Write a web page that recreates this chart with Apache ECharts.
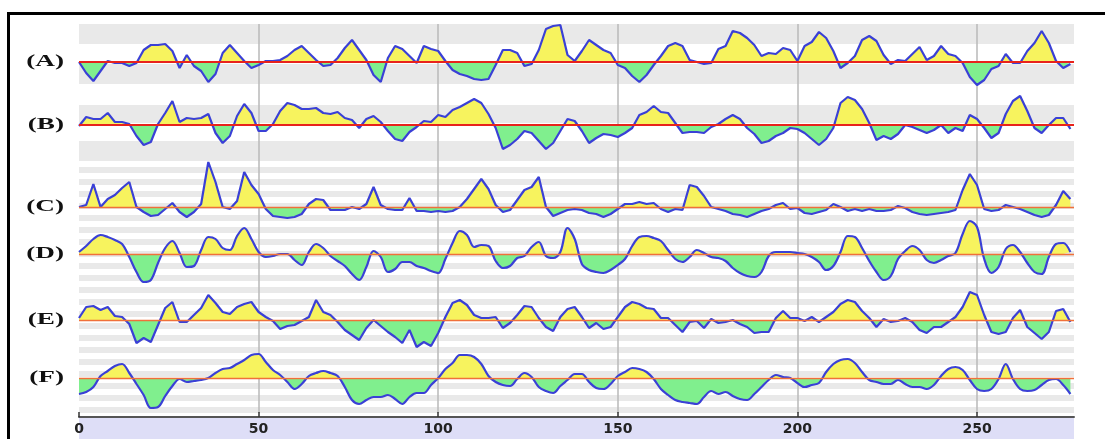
<!DOCTYPE html>
<html><head><meta charset="utf-8">
<script src="https://cdn.jsdelivr.net/npm/echarts@6/dist/echarts.min.js"></script>
<style>
html,body{margin:0;padding:0;background:#fff;width:1105px;height:439px;overflow:hidden;}
#frame{position:absolute;left:7px;top:12px;width:1200px;height:500px;border:3px solid #000;}
#chart{position:absolute;left:0;top:0;width:1105px;height:439px;}
</style></head><body>
<div id="frame"></div><div id="chart"></div>
<script>
const residue = [0,2,4,6,8,10,12,14,16,18,20,22,24,26,28,30,32,34,36,38,40,42,44,46,48,50,52,54,56,58,60,62,64,66,68,70,72,74,76,78,80,82,84,86,88,90,92,94,96,98,100,102,104,106,108,110,112,114,116,118,120,122,124,126,128,130,132,134,136,138,140,142,144,146,148,150,152,154,156,158,160,162,164,166,168,170,172,174,176,178,180,182,184,186,188,190,192,194,196,198,200,202,204,206,208,210,212,214,216,218,220,222,224,226,228,230,232,234,236,238,240,242,244,246,248,250,252,254,256,258,260,262,264,266,268,270,272,274,276];
const tickLabels = [0,50,100,150,200,250];
const panelNames = ['(A)','(B)','(C)','(D)','(E)','(F)'];

const profileA = [0,-11,-19,-9,1,-1,-1,-4,-1,12,
17,17,18,11,-6,7,-4,-9,-20,-12,
9,17,9,1,-6,-3,1,1,2,6,
12,16,9,2,-4,-3,4,14,22,12,
2,-13,-20,4,16,13,6,-1,16,13,
11,1,-8,-12,-14,-17,-18,-17,-3,12,
12,9,-4,-2,12,33,36,37,7,1,
11,22,17,12,9,-3,-6,-14,-20,-13,
-3,6,16,19,16,2,0,-2,-1,13,
16,31,29,24,17,6,9,8,14,12,
1,16,20,30,24,11,-6,-1,6,22,
26,21,7,-2,2,1,8,15,2,6,
16,8,6,-1,-15,-23,-18,-7,-4,8,
-1,-1,11,19,31,19,1,-6,-2];
const profileB = [-1,8,6,6,12,3,3,1,-11,-20,
-17,1,12,24,3,7,6,7,11,-8,
-18,-11,9,21,12,-6,-6,1,14,22,
20,16,16,17,12,11,13,7,5,-3,
6,9,3,-6,-14,-16,-7,-2,4,3,
10,8,15,18,22,26,22,11,-3,-24,
-20,-14,-6,-8,-16,-24,-18,-6,6,4,
-6,-18,-13,-9,-10,-12,-8,-3,10,13,
19,13,12,2,-8,-7,-7,-8,-2,1,
6,10,6,-3,-9,-18,-16,-11,-8,-3,
-4,-8,-14,-20,-14,-3,22,28,25,16,
2,-15,-11,-14,-9,0,-2,-5,-8,-5,
0,-8,-3,-6,10,6,-3,-13,-8,11,
24,29,14,-3,-8,0,7,7,-4];
const profileC = [0,2,23,0,8,12,19,25,0,-5,
-9,-8,-2,4,-5,-10,-5,3,45,25,
0,-2,6,35,22,13,-2,-9,-10,-11,
-10,-7,3,8,7,-3,-3,-3,0,-2,
3,20,2,-2,-3,-3,9,-4,-4,-5,
-4,-5,-4,0,8,18,28,18,2,-5,
-3,7,17,20,30,0,-9,-6,-3,-2,
-3,-6,-7,-10,-7,-2,3,3,5,3,
4,-2,-5,-2,-3,22,20,11,0,-2,
-4,-7,-8,-10,-7,-4,-2,2,4,-2,
-1,-6,-7,-5,-3,3,0,-4,-2,-4,
-2,-4,-4,-3,1,-1,-5,-7,-8,-7,
-6,-5,-3,17,33,22,-2,-4,-3,2,
0,-2,-5,-8,-10,-8,2,16,8];
const profileD = [2,8,15,19,17,14,10,-3,-18,-28,
-26,-9,6,13,1,-13,-12,4,17,15,
6,4,18,26,15,2,-3,-2,0,0,
-6,-11,2,10,6,-2,-7,-12,-20,-26,
-13,3,-3,-18,-15,-8,-8,-12,-14,-17,
-19,-5,11,23,19,7,9,8,-7,-14,
-12,-4,-2,7,12,-2,-4,2,26,15,
-10,-16,-18,-19,-16,-11,-5,8,17,18,
16,13,4,-5,-8,-3,4,1,-3,-4,
-7,-14,-19,-22,-23,-18,-2,2,2,2,
1,0,-3,-8,-16,-12,2,18,17,6,
-7,-18,-26,-22,-5,3,8,4,-6,-9,
-6,-2,1,20,33,27,-5,-19,-13,5,
9,2,-9,-18,-20,-3,10,11,2];
const profileE = [2,13,14,10,13,4,3,-4,-23,-18,
-22,-5,12,18,-2,-2,5,12,25,17,
8,6,13,16,18,8,3,-1,-9,-6,
-5,-1,3,20,8,5,-2,-10,-15,-20,
-8,0,-6,-12,-17,-23,-10,-27,-22,-26,
-13,3,17,20,15,5,2,2,3,-8,
-3,5,14,13,2,-7,-11,3,11,13,
3,-8,-3,-9,-7,3,13,18,16,12,
11,2,2,-5,-12,-2,-1,-8,1,-3,
-2,0,-4,-7,-13,-12,-12,2,9,2,
2,-1,3,-2,3,8,16,20,18,9,
2,-7,1,-2,-1,2,-2,-10,-13,-7,
-7,-2,3,13,28,25,5,-12,-14,-12,
2,10,-7,-13,-19,-12,9,11,-2];
const profileF = [-16,-14,-9,2,7,12,14,5,-6,-17,
-30,-29,-18,-8,-1,-4,-3,-2,0,5,
9,10,14,18,23,24,16,8,3,-4,
-11,-6,2,5,7,5,2,-9,-22,-26,
-22,-19,-19,-17,-21,-26,-19,-15,-15,-7,
0,9,15,23,23,21,14,2,-4,-7,
-8,-1,5,1,-9,-13,-15,-8,-2,4,
4,-4,-10,-11,-6,2,6,10,9,6,
-1,-11,-17,-22,-24,-25,-26,-19,-13,-16,
-14,-18,-21,-22,-16,-9,-2,3,1,0,
-5,-9,-7,-5,6,14,18,19,15,6,
-2,-4,-6,-6,-2,-6,-9,-9,-11,-7,
2,9,11,8,-2,-11,-13,-11,-1,14,
-1,-11,-13,-12,-7,-2,-1,-7,-16];

const profiles = [profileA, profileB, profileC, profileD, profileE, profileF];

// layout
const X_MAX = 277;
const LEFT = 79, RIGHT = 31;
const baselineY = [62, 125, 207, 254, 320, 378];
const HALF = 50;
const smoothing = [false, false, false, 0.35, false, 0.35];
const baseColor = ['#e8231c', '#e8231c', '#f0703a', '#f0703a', '#f0703a', '#f0703a'];
const baseWidth = [2, 2, 1.3, 1.3, 1.3, 1.3];

const grids = [], xAxes = [], yAxes = [], series = [], fillIdx = [];

// striped background bands
const stripeBands = [{top: 24, height: 60, n: 3}, {top: 105, height: 54, n: 3}, {top: 155, height: 258, n: 43}];
stripeBands.forEach(b => {
  const gi = grids.length;
  grids.push({left: LEFT, right: RIGHT, top: b.top, height: b.height});
  xAxes.push({gridIndex: gi, type: 'value', min: 0, max: X_MAX, show: false});
  yAxes.push({gridIndex: gi, type: 'value', min: 0, max: b.n, interval: 1, z: 0,
    axisLine: {show: false}, axisTick: {show: false}, axisLabel: {show: false},
    splitLine: {show: false},
    splitArea: {show: true, areaStyle: {color: ['#e9e9e9', 'rgba(255,255,255,0)']}}});
});

// vertical grid lines
{
  const gi = grids.length;
  grids.push({left: LEFT, right: RIGHT, top: 24, height: 389});
  xAxes.push({gridIndex: gi, type: 'value', min: 0, max: X_MAX, interval: 50, z: 1,
    axisLine: {show: false}, axisTick: {show: false}, axisLabel: {show: false},
    splitLine: {show: true, showMinLine: false, showMaxLine: false, lineStyle: {color: '#b8b8b8', width: 1.5}}});
  yAxes.push({gridIndex: gi, type: 'value', min: 0, max: 1, show: false});
}

// bottom axis band
{
  const gi = grids.length;
  grids.push({left: LEFT, right: RIGHT, top: 417, height: 40, show: true, backgroundColor: '#dedef7', borderWidth: 0});
  xAxes.push({gridIndex: gi, type: 'value', position: 'top', min: 0, max: X_MAX, z: 1,
    axisLine: {show: true, onZero: false, lineStyle: {color: '#555', width: 2}},
    axisTick: {show: true, customValues: tickLabels, length: 5, lineStyle: {color: '#333', width: 1.5}},
    axisLabel: {show: true, customValues: tickLabels, inside: true, margin: 5, color: '#222', fontSize: 14, fontWeight: 'bold', fontFamily: 'DejaVu Sans'},
    splitLine: {show: false}});
  yAxes.push({gridIndex: gi, type: 'value', min: 0, max: 1, show: false});
}

// profile panels
profiles.forEach((vals, p) => {
  const gi = grids.length;
  grids.push({left: LEFT, right: RIGHT, top: baselineY[p] - HALF, height: 2 * HALF});
  xAxes.push({gridIndex: gi, type: 'value', min: 0, max: X_MAX, show: false});
  yAxes.push({gridIndex: gi, type: 'value', min: -HALF, max: HALF, show: false});
  const data = residue.map((r, i) => [r, vals[i]]);
  fillIdx.push(series.length);
  series.push({type: 'line', xAxisIndex: gi, yAxisIndex: gi, data: data, symbol: 'none',
    smooth: smoothing[p], clip: false, z: 2, silent: true,
    lineStyle: {width: 0, opacity: 0},
    areaStyle: {opacity: 1},
    markLine: {silent: true, symbol: ['none', 'none'], label: {show: false},
      lineStyle: {type: 'solid', color: baseColor[p], width: baseWidth[p]},
      data: [{yAxis: 0}]}});
  series.push({type: 'line', xAxisIndex: gi, yAxisIndex: gi, data: data, symbol: 'none',
    smooth: smoothing[p], clip: false, z: 3, silent: true,
    lineStyle: {color: '#3a40d6', width: 2.2}});
});

const chart = echarts.init(document.getElementById('chart'), null, {renderer: 'canvas'});
chart.setOption({
  animation: false,
  grid: grids, xAxis: xAxes, yAxis: yAxes, series: series,
  visualMap: {type: 'piecewise', show: false, dimension: 1, seriesIndex: fillIdx,
    pieces: [{gt: 0, lte: 100, color: '#f7f35e'}, {gte: -100, lte: 0, color: '#80ef8e'}]},
  graphic: panelNames.map((t, p) => ({type: 'text', x: 64, y: baselineY[p], scaleX: 1.6,
    style: {text: t, fill: '#111', font: 'bold 17px "Liberation Serif"',
      align: 'right', verticalAlign: 'middle', textAlign: 'right', textVerticalAlign: 'middle'}}))
});
</script></body></html>
